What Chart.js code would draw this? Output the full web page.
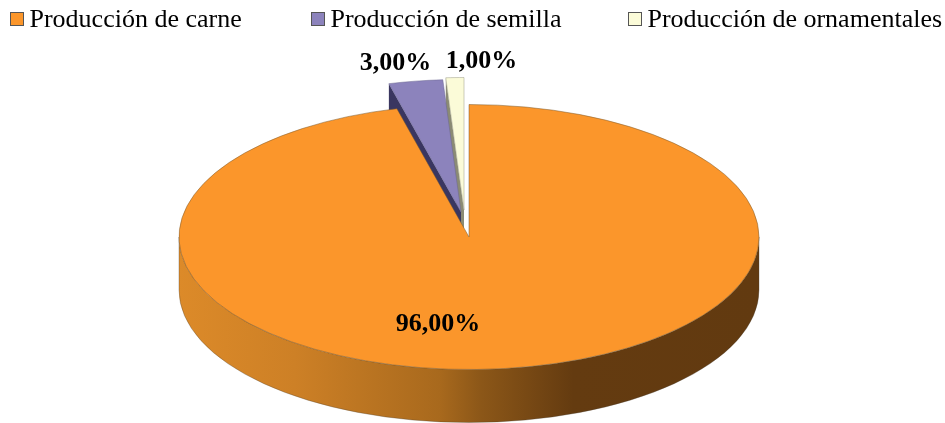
<!DOCTYPE html>
<html><head><meta charset="utf-8">
<style>html,body{margin:0;padding:0;background:#fff}canvas{display:block}</style>
<script src="https://cdn.jsdelivr.net/npm/chart.js@4/dist/chart.umd.min.js"></script>
</head><body><canvas id="c" width="945" height="423"></canvas>
<script>
const categories = ['Producción de carne', 'Producción de semilla', 'Producción de ornamentales'];
const values = [96, 3, 1];
const topColors = ['#fb962b', '#8c83bc', '#fbfbd8'];
const cutColors = ['#7a4a14', '#3a3660', '#8b8b74'];
const edgeColors = ['#7a5a30', '#6a6690', '#9a9a88'];

const squash = 132.5 / 290, depth = 53;
const pull = [[0, 0], [-8, -25], [-5, -27]];       // exploded slices, on screen
const labelAt = [[438, 324], [395.5, 63], [481.5, 61]];
const legendX = [10, 311, 628];

function fmt(v){ return v.toFixed(2).replace('.', ',') + '%'; }

const pie3d = {
  id: 'pie3d',
  beforeDatasetsDraw(chart) {
    const ctx = chart.ctx, arcs = chart.getDatasetMeta(0).data;
    const cut = (i) => {
      const a = arcs[i], [dx, dy] = pull[i];
      const x = a.x + dx, y = a.y + dy;
      const ex = x + Math.cos(a.startAngle) * a.outerRadius;
      const ey = y + Math.sin(a.startAngle) * a.outerRadius * squash;
      ctx.beginPath();
      ctx.moveTo(x, y); ctx.lineTo(ex, ey); ctx.lineTo(ex, ey + depth); ctx.lineTo(x, y + depth);
      ctx.closePath();
      ctx.fillStyle = cutColors[i]; ctx.fill();
    };
    const top = (i) => {
      const a = arcs[i], [dx, dy] = pull[i];
      ctx.save();
      ctx.translate(a.x + dx, a.y + dy);
      ctx.scale(1, squash);
      ctx.translate(-a.x, -a.y);
      a.draw(ctx);
      ctx.restore();
    };
    // back pieces first, then the large slice covers them
    cut(2); cut(1); top(1); top(2);

    const a = arcs[0], r = a.outerRadius, ry = r * squash;
    const g = ctx.createLinearGradient(a.x - r, 0, a.x + r, 0);
    g.addColorStop(0, '#dc8a29'); g.addColorStop(0.2, '#cd8026');
    g.addColorStop(0.45, '#a8691d'); g.addColorStop(0.52, '#8c5718');
    g.addColorStop(0.68, '#643b10'); g.addColorStop(1, '#623a10');
    ctx.beginPath();
    ctx.ellipse(a.x, a.y, r, ry, 0, 0, Math.PI);
    ctx.lineTo(a.x - r, a.y + depth);
    ctx.ellipse(a.x, a.y + depth, r, ry, 0, Math.PI, 0, true);
    ctx.closePath();
    ctx.fillStyle = g; ctx.fill();
    ctx.lineWidth = 0.6; ctx.strokeStyle = 'rgba(70,60,50,.55)'; ctx.stroke();
    top(0);
    return false;
  },
  afterDraw(chart) {
    const ctx = chart.ctx;
    ctx.save();
    ctx.textBaseline = 'alphabetic'; ctx.textAlign = 'left';
    ctx.font = '26px "Liberation Serif"'; ctx.fillStyle = '#000';
    categories.forEach((t, i) => {
      ctx.fillStyle = topColors[i];
      ctx.fillRect(legendX[i] + .5, 12.5, 13, 13);
      ctx.strokeStyle = '#555'; ctx.lineWidth = 1;
      ctx.strokeRect(legendX[i] + .5, 12.5, 13, 13);
      ctx.fillStyle = '#000';
      ctx.fillText(t, legendX[i] + 19.5, 27);
    });
    ctx.textAlign = 'center'; ctx.textBaseline = 'middle';
    ctx.font = 'bold 26px "Liberation Serif"';
    values.forEach((v, i) => ctx.fillText(fmt(v), labelAt[i][0], labelAt[i][1]));
    ctx.restore();
  }
};

new Chart(document.getElementById('c'), {
  type: 'pie',
  data: { labels: categories, datasets: [{
    data: values, backgroundColor: topColors, borderColor: edgeColors,
    borderWidth: 0.7, radius: 290
  }]},
  options: {
    responsive: false, animation: false,
    layout: { padding: { top: 51, right: 7 } },
    plugins: { legend: { display: false }, tooltip: { enabled: false } }
  },
  plugins: [pie3d]
});
</script></body></html>
